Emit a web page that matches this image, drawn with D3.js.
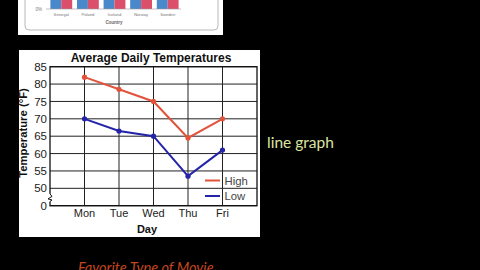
<!DOCTYPE html>
<html>
<head>
<meta charset="utf-8">
<script src="https://cdn.jsdelivr.net/npm/d3@7"></script>
<style>
  body { margin: 0; background: #000; }
  svg { display: block; }
</style>
</head>
<body>
<script>
// chart data
var days = ["Mon", "Tue", "Wed", "Thu", "Fri"];
var highTemps = [82, 78.5, 75, 64.5, 70];
var lowTemps = [70, 66.5, 65, 53.5, 61];
var yTicks = [0, 50, 55, 60, 65, 70, 75, 80, 85];

// the bar chart cut off at the top of the frame
var countries = ["Senegal", "Poland", "Iceland", "Norway", "Sweden"];
var countryA = [62, 58, 66, 60, 64];
var countryB = [70, 64, 72, 68, 69];

var svgWidth = 480;
var svgHeight = 270;

var svg = d3.select("body").append("svg")
  .attr("width", svgWidth)
  .attr("height", svgHeight);

svg.append("rect")
  .attr("width", svgWidth)
  .attr("height", svgHeight)
  .attr("fill", "#000");

// ---- top (cropped) bar chart ----
var barChart = svg.append("g");
barChart.append("rect")
  .attr("x", 18).attr("y", -5)
  .attr("width", 205).attr("height", 40)
  .attr("fill", "#fff");
barChart.append("rect")
  .attr("x", 25).attr("y", -10)
  .attr("width", 193).attr("height", 40)
  .attr("rx", 4)
  .attr("fill", "none")
  .attr("stroke", "#b8b8b8");

var xBand = d3.scaleBand().domain(countries).range([48, 181])
  .paddingInner(0.18).paddingOuter(0.09);
var xSub = d3.scaleBand().domain([0, 1]).range([0, xBand.bandwidth()]);
var yBar = d3.scaleLinear().domain([0, 100]).range([9, -150]);

barChart.selectAll(".grp")
  .data(countries)
  .enter().append("g")
  .attr("transform", d => `translate(${xBand(d)},0)`)
  .each(function(d, i) {
    var g = d3.select(this);
    [countryA[i], countryB[i]].forEach(function(v, j) {
      g.append("rect")
        .attr("x", xSub(j))
        .attr("y", yBar(v))
        .attr("width", xSub.bandwidth())
        .attr("height", yBar(0) - yBar(v))
        .attr("fill", j === 0 ? "#4a88cc" : "#dc4f6a");
    });
  });

barChart.append("line")
  .attr("x1", 46).attr("x2", 181)
  .attr("y1", yBar(0)).attr("y2", yBar(0))
  .attr("stroke", "#999").attr("stroke-width", 0.6);
barChart.append("text")
  .attr("x", 42).attr("y", yBar(0) + 1.5)
  .attr("text-anchor", "end")
  .attr("font-family", "Liberation Sans, Arial, sans-serif")
  .attr("font-size", 4.5).attr("fill", "#777")
  .text("0%");
barChart.selectAll(".clab")
  .data(countries)
  .enter().append("text")
  .attr("x", d => xBand(d) + xBand.bandwidth() / 2)
  .attr("y", 16)
  .attr("text-anchor", "middle")
  .attr("font-family", "Liberation Sans, Arial, sans-serif")
  .attr("font-size", 4.2).attr("fill", "#777")
  .text(d => d);
barChart.append("text")
  .attr("x", 114).attr("y", 24)
  .attr("text-anchor", "middle")
  .attr("font-family", "Liberation Sans, Arial, sans-serif")
  .attr("font-size", 4.5).attr("font-weight", "bold").attr("fill", "#666")
  .text("Country");

// ---- main line chart ----
var font = "Liberation Sans, Arial, Helvetica, sans-serif";
var margin = {top: 66.7, right: 223, bottom: 64.3, left: 50};
var width = svgWidth - margin.left - margin.right;
var height = svgHeight - margin.top - margin.bottom;

svg.append("rect")
  .attr("x", 19).attr("y", 50)
  .attr("width", 241).attr("height", 187)
  .attr("fill", "#fff");

var chartGroup = svg.append("g")
  .attr("transform", `translate(${margin.left}, ${margin.top})`);

var xScale = d3.scalePoint().domain(days).range([0, width]).padding(1);
// broken axis: 0 sits one step under 50
var yScale = d3.scaleLinear().domain([0, 50, 85]).range([height, height * 7 / 8, 0]);

// gridlines
chartGroup.selectAll(".hgrid")
  .data(yTicks)
  .enter().append("line")
  .attr("x1", 0).attr("x2", width)
  .attr("y1", d => yScale(d)).attr("y2", d => yScale(d))
  .attr("stroke", "#222").attr("stroke-width", 1);
chartGroup.selectAll(".vgrid")
  .data(days)
  .enter().append("line")
  .attr("x1", d => xScale(d)).attr("x2", d => xScale(d))
  .attr("y1", 0).attr("y2", height)
  .attr("stroke", "#222").attr("stroke-width", 1);
chartGroup.append("rect")
  .attr("width", width).attr("height", height)
  .attr("fill", "none").attr("stroke", "#111").attr("stroke-width", 1.3);

// axis break squiggle
var bx = 0, b1 = yScale(34), b2 = yScale(12);
chartGroup.append("rect")
  .attr("x", -2).attr("y", b1).attr("width", 4).attr("height", b2 - b1)
  .attr("fill", "#fff");
chartGroup.append("path")
  .attr("d", `M${bx},${b1} L${bx + 2},${b1 + 2.5} L${bx - 2},${b1 + 5} L${bx + 2},${b2 - 1.5} L${bx},${b2}`)
  .attr("fill", "none").attr("stroke", "#111").attr("stroke-width", 1);

// tick labels
chartGroup.selectAll(".ylab")
  .data(yTicks)
  .enter().append("text")
  .attr("x", -3)
  .attr("y", d => yScale(d))
  .attr("dy", "0.36em")
  .attr("text-anchor", "end")
  .attr("font-family", font).attr("font-size", 11.5).attr("fill", "#222")
  .text(d => d);
chartGroup.selectAll(".xlab")
  .data(days)
  .enter().append("text")
  .attr("x", d => xScale(d))
  .attr("y", height + 11.5)
  .attr("text-anchor", "middle")
  .attr("font-family", font).attr("font-size", 11).attr("fill", "#222")
  .text(d => d);

// titles
svg.append("text")
  .attr("x", 151).attr("y", 61.5)
  .attr("text-anchor", "middle")
  .attr("font-family", font).attr("font-size", 12).attr("font-weight", "bold")
  .attr("fill", "#111")
  .text("Average Daily Temperatures");
svg.append("text")
  .attr("x", 147).attr("y", 233)
  .attr("text-anchor", "middle")
  .attr("font-family", font).attr("font-size", 11).attr("font-weight", "bold")
  .attr("fill", "#111")
  .text("Day");
svg.append("text")
  .attr("transform", "translate(27,133) rotate(-90)")
  .attr("text-anchor", "middle")
  .attr("font-family", font).attr("font-size", 11.3).attr("font-weight", "bold")
  .attr("fill", "#111")
  .text("Temperature (°F)");

// lines
var series = [
  {name: "High", values: highTemps, color: "#e2533c"},
  {name: "Low", values: lowTemps, color: "#2424a8"}
];
var line = d3.line()
  .x((d, i) => xScale(days[i]))
  .y(d => yScale(d));

series.forEach(function(s) {
  chartGroup.append("path")
    .attr("d", line(s.values))
    .attr("fill", "none")
    .attr("stroke", s.color)
    .attr("stroke-width", 2);
  chartGroup.selectAll(null)
    .data(s.values)
    .enter().append("circle")
    .attr("cx", (d, i) => xScale(days[i]))
    .attr("cy", d => yScale(d))
    .attr("r", 2.6)
    .attr("fill", s.color);
});

// legend
var legend = svg.append("g");
series.forEach(function(s, i) {
  var ly = 180.5 + i * 15.5;
  legend.append("line")
    .attr("x1", 205).attr("x2", 220)
    .attr("y1", ly).attr("y2", ly)
    .attr("stroke", s.color).attr("stroke-width", 2);
  legend.append("text")
    .attr("x", 224.5).attr("y", ly)
    .attr("dy", "0.36em")
    .attr("font-family", font).attr("font-size", 11.3).attr("fill", "#444")
    .text(s.name);
});

// side captions from the slide
svg.append("text")
  .attr("x", 267).attr("y", 148)
  .attr("font-family", "Lato, Open Sans, sans-serif").attr("font-size", 15.5)
  .attr("fill", "#dde4a2")
  .text("line graph");
svg.append("text")
  .attr("x", 78).attr("y", 272.5)
  .attr("font-family", "Lato, Open Sans, sans-serif").attr("font-size", 14.5)
  .attr("font-style", "italic")
  .attr("fill", "#c4461e")
  .text("Favorite Type of Movie");
</script>
</body>
</html>
